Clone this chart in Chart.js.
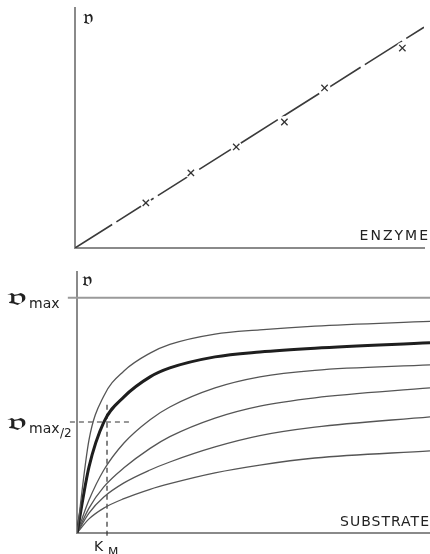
<!DOCTYPE html>
<html lang="en">
<head>
  <meta charset="UTF-8">
  <title>Enzyme and substrate velocity</title>
  <script src="https://cdn.jsdelivr.net/npm/chart.js"></script>
  <style>
    body { margin: 0; background: #fff; }
    canvas { position: absolute; left: 0; }
    #enzymeChart { top: 0; }
    #substrateChart { top: 256px; }
  </style>
</head>
<body>
  <canvas id="enzymeChart" width="430" height="256"></canvas>
  <canvas id="substrateChart" width="430" height="298"></canvas>

  <script>
    // top panel: velocity vs enzyme
    const enzymeX = [20.3, 33.2, 46.2, 60.0, 71.5, 93.8];
    const enzymeY = [18.8, 31.3, 42.1, 52.5, 66.7, 83.3];
    const enzymeLineX = [0, 100];
    const enzymeLineY = [0, 92];

    // bottom panel: velocity vs substrate (vmax = 100)
    const substrateX = [0, 3.4, 7.6, 13.3, 20.7, 26.3, 39.1, 51.8, 67.4, 100];
    const curve1 = [0, 39.6, 58.3, 68.9, 76.5, 80.2, 84.6, 86.4, 88.0, 90.0];
    const curve2 = [0, 28.1, 47.2, 57.9, 66.4, 70.2, 74.9, 77.0, 78.6, 80.9];
    const curve3 = [0, 14.0, 26.8, 38.3, 48.2, 53.6, 61.7, 66.4, 69.2, 71.5];
    const curve4 = [0, 10.6, 19.6, 27.7, 36.0, 41.0, 48.9, 54.0, 57.5, 61.7];
    const curve5 = [0, 8.5, 15.3, 21.3, 26.8, 30.2, 36.6, 41.4, 45.0, 49.4];
    const curve6 = [0, 6.0, 10.6, 14.6, 18.6, 21.0, 25.6, 28.9, 31.9, 34.9];
    const vmax = 100;
    const halfV = 47.2;
    const km = 8.5;

    const V = '\u{1D533}';
    const axisGrey = '#8a8a8a';

    function pts(xs, ys) {
      return xs.map((x, i) => ({ x, y: ys[i] }));
    }

    function hiddenAxis(min, max) {
      return {
        type: 'linear', min, max,
        ticks: { display: false },
        grid: { display: false, drawTicks: false },
        border: { display: true, color: axisGrey, width: 2 },
        afterFit: s => { if (s.isHorizontal()) s.height = 0; else s.width = 0; }
      };
    }

    // fraktur v, stretched a bit to look like the printed one
    function drawV(ctx, x, y, size, sx) {
      ctx.save();
      ctx.translate(x, y);
      ctx.scale(sx, 1);
      ctx.font = size + 'px "DejaVu Serif", serif';
      ctx.textAlign = 'left';
      ctx.fillText(V, 0, 0);
      ctx.restore();
    }

    const labelsPlugin = {
      id: 'labels',
      afterDraw(chart) {
        const ctx = chart.ctx;
        const xs = chart.scales.x, ys = chart.scales.y;
        ctx.save();
        ctx.fillStyle = '#222';
        ctx.textBaseline = 'alphabetic';
        if (chart.canvas.id === 'enzymeChart') {
          drawV(ctx, 83, 24, 21, 1.15);
          ctx.font = '14px "DejaVu Sans", sans-serif';
          ctx.letterSpacing = '2px';
          ctx.textAlign = 'right';
          ctx.fillText('ENZYME', 430, 240);
        } else {
          drawV(ctx, 82, 30, 20, 1.2);
          // vmax
          const yMax = ys.getPixelForValue(vmax);
          drawV(ctx, 7, yMax + 7, 23, 2.0);
          ctx.font = '14px "DejaVu Sans", sans-serif';
          ctx.fillText('max', 29, yMax + 10);
          // vmax/2
          const yHalf = ys.getPixelForValue(halfV);
          drawV(ctx, 7, yHalf + 8, 23, 2.0);
          ctx.fillText('max', 29, yHalf + 11);
          ctx.font = '12px "DejaVu Sans", sans-serif';
          ctx.fillText('/2', 60, yHalf + 15);
          // KM
          const xKm = xs.getPixelForValue(km);
          ctx.font = '14px "DejaVu Sans", sans-serif';
          ctx.fillText('K', xKm - 13, 295);
          ctx.font = '12px "DejaVu Sans", sans-serif';
          ctx.fillText('M', xKm + 1, 300);
          // axis title
          ctx.font = '14px "DejaVu Sans", sans-serif';
          ctx.letterSpacing = '1px';
          ctx.textAlign = 'right';
          ctx.fillText('SUBSTRATE', 430, 270);
        }
        ctx.restore();
      }
    };

    new Chart(document.getElementById('enzymeChart'), {
      type: 'line',
      data: {
        datasets: [
          {
            data: pts(enzymeX, enzymeY),
            showLine: false, order: 1,
            pointStyle: 'crossRot', pointRadius: 4.5,
            pointBorderColor: '#333', pointBorderWidth: 1.3
          },
          {
            // white halo so the line breaks at each cross
            data: pts(enzymeX, enzymeY),
            showLine: false, order: 2,
            pointStyle: 'circle', pointRadius: 6,
            pointBackgroundColor: '#fff', pointBorderWidth: 0
          },
          {
            data: pts(enzymeLineX, enzymeLineY),
            order: 3,
            borderColor: '#3a3a3a', borderWidth: 1.6,
            borderDash: [44, 5], pointRadius: 0
          }
        ]
      },
      options: {
        responsive: false, animation: false,
        layout: { padding: { left: 75, top: 8, right: 0, bottom: 8 } },
        plugins: { legend: { display: false }, tooltip: { enabled: false } },
        scales: { x: hiddenAxis(0, 100), y: hiddenAxis(0, 100) }
      },
      plugins: [labelsPlugin]
    });

    const curveStyle = (data, bold) => ({
      data,
      borderColor: bold ? '#1e1e1e' : '#555',
      borderWidth: bold ? 3 : 1.3,
      pointRadius: 0,
      cubicInterpolationMode: 'monotone'
    });
    const dashStyle = data => ({
      data, borderColor: '#333', borderWidth: 1.2,
      borderDash: [5, 4], pointRadius: 0, clip: false
    });

    new Chart(document.getElementById('substrateChart'), {
      type: 'line',
      data: {
        datasets: [
          {
            data: pts([-2.6, 100], [vmax, vmax]),
            borderColor: '#9a9a9a', borderWidth: 2, pointRadius: 0, clip: false
          },
          curveStyle(pts(substrateX, curve1), false),
          curveStyle(pts(substrateX, curve2), true),
          curveStyle(pts(substrateX, curve3), false),
          curveStyle(pts(substrateX, curve4), false),
          curveStyle(pts(substrateX, curve5), false),
          curveStyle(pts(substrateX, curve6), false),
          dashStyle(pts([-2, 15], [halfV, halfV])),
          dashStyle(pts([km, km], [54.5, -1.7]))
        ]
      },
      options: {
        responsive: false, animation: false,
        layout: { padding: { left: 77, top: 16, right: 0, bottom: 21 } },
        plugins: { legend: { display: false }, tooltip: { enabled: false } },
        scales: { x: hiddenAxis(0, 100), y: hiddenAxis(0, 111) }
      },
      plugins: [labelsPlugin]
    });
  </script>
</body>
</html>
